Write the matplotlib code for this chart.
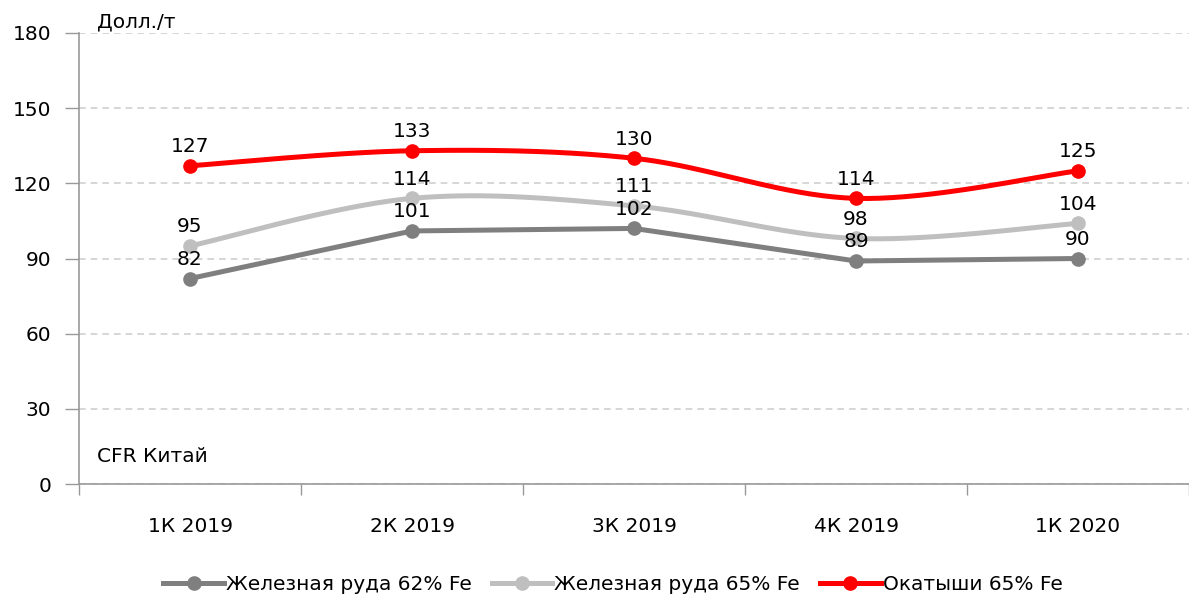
import matplotlib
matplotlib.use("Agg")
import matplotlib.pyplot as plt
import numpy as np

# Data
quarters = ["1К 2019", "2К 2019", "3К 2019", "4К 2019", "1К 2020"]
ore62 = [82, 101, 102, 89, 90]
ore65 = [95, 114, 111, 98, 104]
pellets65 = [127, 133, 130, 114, 125]
series_names = ["Железная руда 62% Fe", "Железная руда 65% Fe", "Окатыши 65% Fe"]
series_colors = ["#7f7f7f", "#bfbfbf", "#ff0000"]
smoothed = [False, True, True]

plt.rcParams['font.family'] = ['DejaVu Sans']
FS = 14.5


# Excel-like smoothed line (Bezier through the data points)
def smooth_curve(xs, ys, steps=40):
    xs = np.asarray(xs, dtype=float)
    ys = np.asarray(ys, dtype=float)
    px = np.concatenate([[xs[0]], xs, [xs[-1]]])
    py = np.concatenate([[ys[0]], ys, [ys[-1]]])
    out_x, out_y = [], []
    for i in range(1, len(px) - 2):
        t = np.linspace(0, 1, steps)
        for arr, out in ((px, out_x), (py, out_y)):
            p0, p1, p2, p3 = arr[i - 1], arr[i], arr[i + 1], arr[i + 2]
            c1 = p1 + (p2 - p0) / 6
            c2 = p2 - (p3 - p1) / 6
            out.extend((1 - t) ** 3 * p1 + 3 * (1 - t) ** 2 * t * c1
                       + 3 * (1 - t) * t ** 2 * c2 + t ** 3 * p2)
    return np.array(out_x), np.array(out_y)


fig = plt.figure(figsize=(11.89, 6.01), dpi=100)
ax = fig.add_axes([79 / 1189, 1 - 484 / 601, 1 - 79 / 1189, 451 / 601])

x = np.arange(len(quarters))
for vals, name, col, sm in zip([ore62, ore65, pellets65], series_names, series_colors, smoothed):
    if sm:
        sx, sy = smooth_curve(x, vals)
    else:
        sx, sy = x, vals
    ax.plot(sx, sy, color=col, linewidth=3.6, solid_capstyle='round',
            solid_joinstyle='round', zorder=3)
    ax.plot(x, vals, 'o', color=col, markersize=9.5, zorder=4)
    # proxy for the legend
    ax.plot([], [], color=col, linewidth=3.6, marker='o', markersize=9.5, label=name)
    for xi, v in zip(x, vals):
        ax.annotate(str(v), (xi, v), xytext=(0, 7), textcoords='offset points',
                    ha='center', va='bottom', fontsize=FS, color='black', zorder=5)

ax.set_ylim(0, 180)
ax.set_xlim(-0.5, 4.49)
ax.set_yticks(np.arange(0, 181, 30))
ax.set_xticks(x)
ax.set_xticklabels(quarters)
ax.set_xticks(np.arange(-0.5, 4.6, 1), minor=True)
ax.tick_params(axis='y', labelsize=FS, length=10, width=1, color='#999999', pad=10)
ax.tick_params(axis='x', which='major', labelsize=FS, length=0, pad=24)
ax.tick_params(axis='x', which='minor', length=8, width=1, color='#999999')

ax.grid(axis='y', color='#d0d0d0', linestyle=(0, (4, 3)), linewidth=1.2)
ax.set_axisbelow(True)
for side in ['top', 'right']:
    ax.spines[side].set_visible(False)
for side in ['left', 'bottom']:
    ax.spines[side].set_color('#999999')
    ax.spines[side].set_linewidth(1.2)

fig.text(97 / 1189, 1 - 22 / 601, "Долл./т", fontsize=FS, va='center', ha='left')
fig.text(97 / 1189, 1 - 457 / 601, "CFR Китай", fontsize=FS, va='center', ha='left')

fig.legend(loc='center', bbox_to_anchor=(613 / 1189, 1 - 585 / 601), ncol=3,
           frameon=False, fontsize=FS, handlelength=3.0, handletextpad=0.1,
           columnspacing=1.0)

fig.savefig("out.png", dpi=100)
